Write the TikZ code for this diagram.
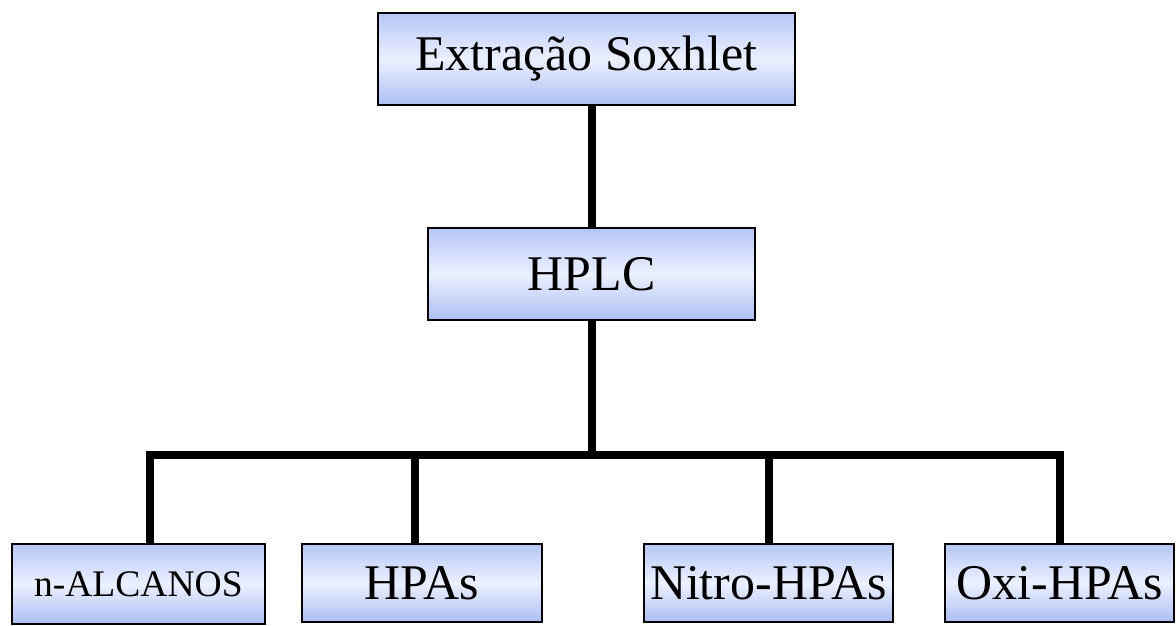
\documentclass[tikz,border=0pt]{standalone}
\usepackage{fontspec}
\setmainfont{Liberation Serif}
\usepackage{tikz}
\usetikzlibrary{positioning,calc}
\definecolor{boxtop}{RGB}{182,198,246}
\definecolor{boxmid}{RGB}{236,240,255}
\definecolor{boxbot}{RGB}{172,190,242}

\begin{document}
\begin{tikzpicture}[
  stage/.style={rectangle,draw=black,line width=0.9pt,inner sep=0pt,
    top color=boxtop,bottom color=boxbot,middle color=boxmid,
    font=\fontsize{35.5}{40}\selectfont},
  link/.style={line width=5.7pt,line join=miter}]
\useasboundingbox (0,0) rectangle (29.4,-15.65);
\node[stage,minimum width=10.425cm,minimum height=2.3cm] (sox) at (14.66,-1.475) {Extração Soxhlet};
\node[stage,minimum width=8.175cm,minimum height=2.3cm] (hplc) at (14.79,-6.85) {HPLC};
\node[stage,minimum width=6.325cm,minimum height=2.0cm,font=\fontsize{26.7}{30}\selectfont] (alc) at (3.46,-14.6) {n-ALCANOS};
\node[stage,minimum width=6.0cm,minimum height=1.95cm] (hpas) at (10.55,-14.575) {HPAs};
\node[stage,minimum width=6.225cm,minimum height=1.95cm] (nitro) at (19.21,-14.575) {Nitro-HPAs};
\node[stage,minimum width=5.725cm,minimum height=1.95cm] (oxi) at (26.49,-14.575) {Oxi-HPAs};
% junctions on the bus
\coordinate (j1) at (3.75,-11.375);
\coordinate (j2) at (10.375,-11.375);
\coordinate (j3) at (19.225,-11.375);
\coordinate (j4) at (26.5,-11.375);
\draw[link] (sox.south -| hplc.south) -- (hplc.north);
\draw[link] (hplc.south) -- (hplc.south |- j1);
\draw[link] (j1 |- alc.north) -- (j1) -- (j4) -- (j4 |- oxi.north);
\draw[link] (j2) -- (j2 |- hpas.north);
\draw[link] (j3) -- (j3 |- nitro.north);
\end{tikzpicture}
\end{document}
